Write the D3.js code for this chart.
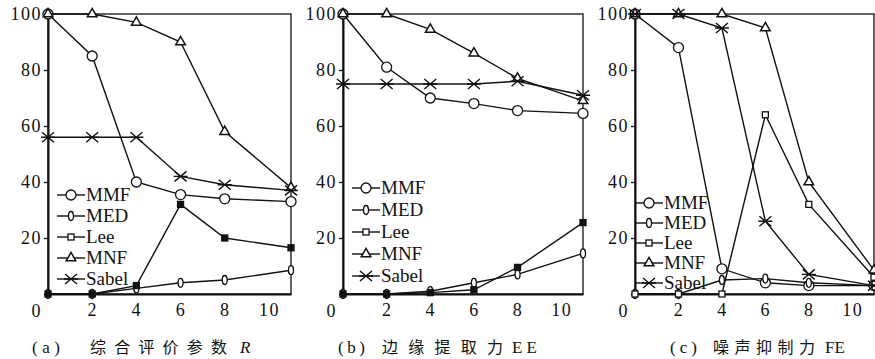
<!DOCTYPE html>
<html>
<head>
  <script src="https://d3js.org/d3.v7.min.js"></script>
  <style>
    body { margin: 0; background: #fff; }
    svg { display: block; }
  </style>
</head>
<body>
  <svg id="chart" width="875" height="359"></svg>

  <script>
    // x positions of the samples (same in all three panels)
    const xs = [0, 2, 4, 6, 8, 11];
    const series = ['MMF', 'MED', 'Lee', 'MNF', 'Sabel'];
    const yTicks = [20, 40, 60, 80, 100];
    const xTicks = [2, 4, 6, 8, 10];

    // (a) overall evaluation parameter R
    const rMMF   = [100, 85, 40, 35.5, 34, 33];
    const rMED   = [0, 0, 2, 4, 5, 8.5];
    const rLee   = [0, 0, 3, 32, 20, 16.5];
    const rMNF   = [100, 100, 97, 90, 58, 38];
    const rSabel = [56, 56, 56, 42, 39, 37];

    // (b) edge extraction EE
    const eMMF   = [100, 81, 70, 68, 65.5, 64.5];
    const eMED   = [0, 0, 1, 4, 7, 14.5];
    const eLee   = [0, 0, 0.5, 1.5, 9.5, 25.5];
    const eMNF   = [100, 100, 94.5, 86, 77, 69];
    const eSabel = [75, 75, 75, 75, 76, 71];

    // (c) noise suppression FE
    const fMMF   = [100, 88, 9, 4, 3, 3];
    const fMED   = [0, 0, 5, 5.5, 4, 3];
    const fLee   = [0, 0, 0, 64, 32, 6];
    const fMNF   = [100, 100, 100, 95, 40, 8.5];
    const fSabel = [100, 100, 95, 26, 7, 3];

    // caption pieces: [text, start x, width, italic]
    const panels = [
      { left: 48, right: 291, data: [rMMF, rMED, rLee, rMNF, rSabel],
        cap: [['(a)', 32, 28], ['综合评价参数', 90, 137], ['R', 240, 11, true]],
        legX: 57, legY: 195, legGap: 21, leeFill: true },
      { left: 343, right: 583, data: [eMMF, eMED, eLee, eMNF, eSabel],
        cap: [['(b)', 338, 27], ['边缘提取力', 382, 121], ['EE', 512, 25]],
        legX: 352, legY: 188, legGap: 22, leeFill: true },
      { left: 635, right: 874, data: [fMMF, fMED, fLee, fMNF, fSabel],
        cap: [['(c)', 670, 27], ['噪声抑制力', 713, 102], ['FE', 825, 20]],
        legX: 635, legY: 203, legGap: 20, leeFill: false }
    ];

    const SERIF = '"Liberation Serif", "DejaVu Serif", serif';
    const plotTop = 14, plotBottom = 294;
    const svg = d3.select('#chart');

    // marker drawing
    function marker(g, name, leeFill) {
      if (name === 'MMF') {
        g.append('circle').attr('r', 5).attr('fill', '#fff').attr('stroke', '#111').attr('stroke-width', 1.3);
      } else if (name === 'MED') {
        g.append('ellipse').attr('rx', 2.5).attr('ry', 4.5).attr('fill', '#fff').attr('stroke', '#111').attr('stroke-width', 1.3);
      } else if (name === 'Lee') {
        g.append('rect').attr('x', -3).attr('y', -3).attr('width', 6).attr('height', 6)
          .attr('fill', leeFill ? '#111' : '#fff').attr('stroke', '#111').attr('stroke-width', 1.3);
      } else if (name === 'MNF') {
        g.append('path').attr('d', d3.symbol(d3.symbolTriangle, 40)())
          .attr('fill', '#fff').attr('stroke', '#111').attr('stroke-width', 1.5);
      } else {
        g.append('path').attr('d', 'M-6,-5L6,5M-6,5L6,-5M-7,0L7,0')
          .attr('stroke', '#111').attr('stroke-width', 1.4).attr('fill', 'none');
      }
    }

    panels.forEach(p => {
      const x = d3.scaleLinear().domain([0, 11]).range([p.left, p.right]);
      const y = d3.scaleLinear().domain([0, 100]).range([plotBottom, plotTop]);
      const g = svg.append('g');

      // frame
      g.append('rect')
        .attr('x', p.left).attr('y', plotTop)
        .attr('width', p.right - p.left).attr('height', plotBottom - plotTop)
        .attr('fill', 'none').attr('stroke', '#111').attr('stroke-width', 1.3);

      // y axis
      const ya = g.append('g').attr('transform', `translate(${p.left},0)`)
        .call(d3.axisLeft(y).tickValues(yTicks).tickSize(4).tickPadding(2));
      ya.select('.domain').attr('stroke', '#111').attr('stroke-width', 2);
      ya.selectAll('.tick line').attr('stroke', '#111').attr('stroke-width', 1.3);
      ya.selectAll('.tick text').style('font-family', SERIF).style('font-size', '18px')
        .attr('letter-spacing', 1.5).attr('fill', '#111');

      // x axis
      const xa = g.append('g').attr('transform', `translate(0,${plotBottom})`)
        .call(d3.axisBottom(x).tickValues(xTicks).tickSize(0).tickPadding(9));
      xa.select('.domain').attr('stroke', '#111').attr('stroke-width', 2.2);
      xa.selectAll('.tick text').style('font-family', SERIF).style('font-size', '18px')
        .attr('letter-spacing', 1.5).attr('fill', '#111');

      // origin label
      g.append('text').attr('x', p.left - 12).attr('y', 317)
        .attr('text-anchor', 'middle').style('font-family', SERIF)
        .style('font-size', '18px').attr('fill', '#111').text('0');

      // series
      const line = d3.line().x((d, i) => x(xs[i])).y(d => y(d));
      p.data.forEach((vals, k) => {
        g.append('path').datum(vals).attr('d', line)
          .attr('fill', 'none').attr('stroke', '#111').attr('stroke-width', 1.4);
        vals.forEach((v, i) => {
          marker(g.append('g').attr('transform', `translate(${x(xs[i])},${y(v)})`), series[k], p.leeFill);
        });
      });

      // legend
      series.forEach((s, k) => {
        const ly = p.legY + k * p.legGap;
        const lg = g.append('g').attr('transform', `translate(${p.legX},${ly})`);
        lg.append('line').attr('x1', 0).attr('x2', 28).attr('stroke', '#111').attr('stroke-width', 1.4);
        marker(lg.append('g').attr('transform', 'translate(14,0)'), s, false);
        lg.append('text').attr('x', 29).attr('y', 6).style('font-family', SERIF)
          .style('font-size', '19px').attr('fill', '#111').text(s);
      });

      // caption
      p.cap.forEach(([t, cx, w, it]) => {
        const cjk = /[\u4e00-\u9fff]/.test(t);
        g.append('text').attr('x', cx).attr('y', 353)
          .attr('textLength', w).attr('lengthAdjust', 'spacing')
          .style('font-family', cjk ? '"Noto Sans CJK SC", sans-serif' : SERIF)
          .style('font-size', cjk ? '16px' : '17px')
          .style('font-style', it ? 'italic' : 'normal')
          .attr('fill', '#111')
          .text(t);
      });
    });
  </script>
</body>
</html>
